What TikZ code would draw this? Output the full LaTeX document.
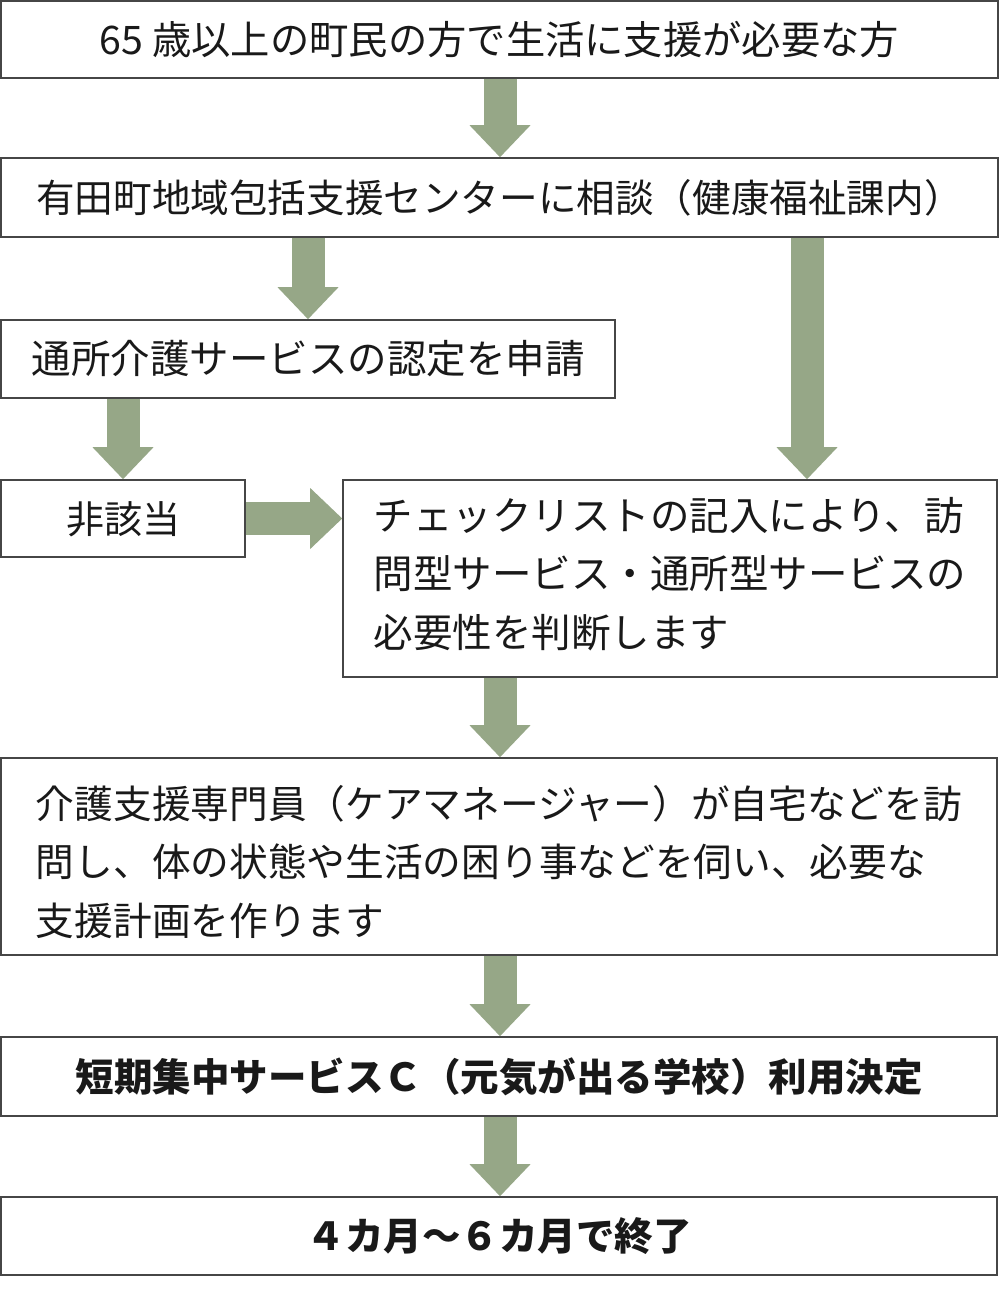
\documentclass[tikz,border=0pt]{standalone}
\usepackage{fontspec}
\setmainfont{Noto Sans CJK JP}
\usetikzlibrary{arrows.meta}
\definecolor{arrowgreen}{RGB}{150,167,135}
\definecolor{boxline}{RGB}{70,70,70}
\begin{document}
\begin{tikzpicture}[x=1pt,y=-1pt,
  box/.style={draw=boxline, line width=1.6pt, fill=white, inner sep=0pt,
    font=\fontsize{38}{58}\selectfont, text=black!90},
  one/.style={text height=34pt, text depth=4.6pt},
  fat/.style={draw=arrowgreen, line width=33pt,
    -{Triangle[width=61pt,length=32pt,line width=0pt]}}]
\useasboundingbox (0,0) rectangle (1000,1289);
\node[box,one,minimum width=997pt,minimum height=77pt,font=\fontsize{39.3}{58}\selectfont] (b1) at (499.5,39.5)
  {65 歳以上の町民の方で生活に支援が必要な方};
\node[box,one,minimum width=997pt,minimum height=79pt,font=\fontsize{38.6}{58}\selectfont] (b2) at (499.5,197.5)
  {有田町地域包括支援センターに相談（健康福祉課内）};
\node[box,one,minimum width=614pt,minimum height=78pt,font=\fontsize{39.5}{58}\selectfont] (b3) at (308,359)
  {通所介護サービスの認定を申請};
\node[box,one,minimum width=244pt,minimum height=77pt] (b4) at (123,518.5)
  {非該当};
\node[box,minimum width=654pt,minimum height=197pt,align=left,font=\fontsize{39.5}{58.5}\selectfont] (b5) at (670,578.5)
  {チェックリストの記入により、訪\\問型サービス・通所型サービスの\\必要性を判断します\rule[-13pt]{0pt}{1pt}};
\node[box,minimum width=996pt,minimum height=197pt,align=left,font=\fontsize{38.7}{58.5}\selectfont] (b6) at (499,856.5)
  {\rule{0pt}{44pt}介護支援専門員（ケアマネージャー）が自宅などを訪\\問し、体の状態や生活の困り事などを伺い、必要な\\支援計画を作ります};
\node[box,one,minimum width=996pt,minimum height=79pt,font=\fontsize{38.5}{58}\selectfont\bfseries] (b7) at (499,1076.5)
  {短期集中サービスＣ（元気が出る学校）利用決定};
\node[box,one,minimum width=996pt,minimum height=78pt,font=\fontsize{38.5}{58}\selectfont\bfseries] (b8) at (499,1236)
  {４カ月～６カ月で終了};
\coordinate (cx) at (500,0);
\coordinate (rx) at (807,0);
\draw[fat] (b1.south -| cx) -- (b2.north -| cx);
\draw[fat] (b2.south -| b3.north) -- (b3.north);
\draw[fat] (b2.south -| rx) -- (b5.north -| rx);
\draw[fat] (b3.south -| b4.north) -- (b4.north);
\draw[fat] (b4.east) -- (b5.west |- b4.east);
\draw[fat] (b5.south -| cx) -- (b6.north -| cx);
\draw[fat] (b6.south -| cx) -- (b7.north -| cx);
\draw[fat] (b7.south -| cx) -- (b8.north -| cx);
\end{tikzpicture}
\end{document}
